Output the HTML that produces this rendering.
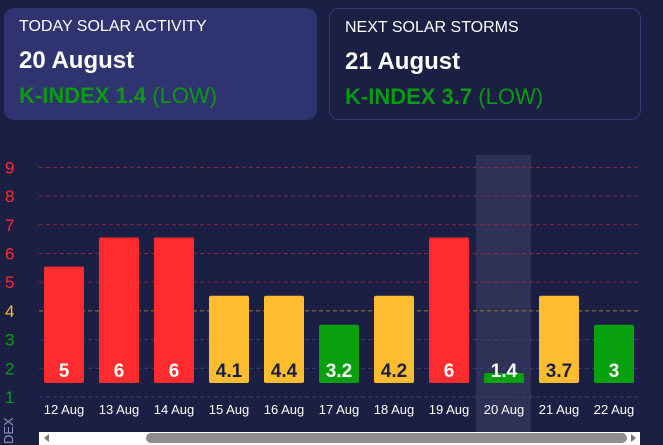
<!DOCTYPE html>
<html><head><meta charset="utf-8"><style>
body{margin:0;width:663px;height:445px;background:#1c1f44;overflow:hidden;font-family:"Liberation Sans",sans-serif;position:relative}
.card{position:absolute;top:8px;height:112px;box-sizing:border-box;border-radius:10px;padding:0 15px;color:#fff}
.t{position:absolute;top:10px;font-size:16px}
.d{position:absolute;top:39px;font-size:24px;font-weight:bold}
.k{position:absolute;top:75px;font-size:22px;color:#0a9a12}
.k b{font-weight:bold}
</style></head><body>
<div class="card" style="left:4px;width:313px;background:#2f3470">
<div class="t">TODAY SOLAR ACTIVITY</div>
<div class="d">20 August</div>
<div class="k"><b>K-INDEX 1.4</b> (LOW)</div>
</div>
<div class="card" style="left:329px;width:312px;border:1px solid #33387a;background:#1c1f44">
<div class="t">NEXT SOLAR STORMS</div>
<div class="d">21 August</div>
<div class="k"><b>K-INDEX 3.7</b> (LOW)</div>
</div>
<svg id="chart" width="663" height="445" style="position:absolute;left:0;top:0;overflow:hidden"></svg>
<script>
const categories=["12 Aug","13 Aug","14 Aug","15 Aug","16 Aug","17 Aug","18 Aug","19 Aug","20 Aug","21 Aug","22 Aug"];
const values=[5,6,6,4.1,4.4,3.2,4.2,6,1.4,3.7,3];
const labels=["5","6","6","4.1","4.4","3.2","4.2","6","1.4","3.7","3"];
const yTicks=[1,2,3,4,5,6,7,8,9];
const highlightIndex=8;
const svg=document.getElementById('chart');
const NS='http://www.w3.org/2000/svg';
function yGrid(v){return 397-(v-1)*28.7;}
function xCenter(i){return 64+i*55;}
function bh(v){return Math.max(10,(Math.round(v)-1)*29.1);}
function color(v){const r=Math.round(v);return r>=5?'#ff2b2e':r>=4?'#fdbd2e':'#08a00f';}
function tickColor(v){return v>=5?'#ff2b2e':v>=4?'#fdbd2e':'#08a00f';}
function mk(tag,attrs){const e=document.createElementNS(NS,tag);for(const k in attrs)e.setAttribute(k,attrs[k]);svg.appendChild(e);return e;}
const hl=mk('rect',{x:xCenter(highlightIndex)-28,y:155,width:55,height:277,fill:'#2f3256'});


yTicks.forEach(v=>{
 const y=yGrid(v);
 const gc=v>=5?'#8a2a3f':v==4?'#9a7a2a':'#3a3f78';
 const l=mk('line',{x1:39,x2:640,y1:y,y2:y,stroke:gc,'stroke-width':1,'stroke-dasharray':'4,3'});
 
 
 const t=mk('text',{x:5,y:y+6,fill:tickColor(v),'font-size':17,'font-family':'Liberation Sans'});
 t.textContent=v;
 
 
});
values.forEach((v,i)=>{
 const h=bh(v),cx=xCenter(i);
 const r=mk('rect',{x:cx-20,y:383-h,width:40,height:h,rx:2,fill:color(v)});
 
 
 const tc=Math.round(v)==4?'#1c1f44':'#fff';
 const t=mk('text',{x:cx,y:377,fill:tc,'font-size':19,'font-weight':'bold','text-anchor':'middle','font-family':'Liberation Sans'});
 t.textContent=labels[i];
 
 
 const c=mk('text',{x:cx,y:414,fill:'#fff','font-size':13,'text-anchor':'middle','font-family':'Liberation Sans'});
 c.textContent=categories[i];
 
 
});
const ax=mk('text',{x:0,y:0,fill:'#8f93c0','font-size':13,transform:'translate(13,444) rotate(-90)','font-family':'Liberation Sans'});
ax.textContent='DEX';


const tr=mk('rect',{x:39,y:432,width:601,height:13,fill:'#fff'});


const th=mk('rect',{x:146,y:433,width:481,height:10,rx:5,fill:'#8e8e8e'});


const la=mk('path',{d:'M44 438 L49 434 L49 442 Z',fill:'#777'});


const ra=mk('path',{d:'M636 438 L631 434 L631 442 Z',fill:'#777'});


</script>
</body></html>
